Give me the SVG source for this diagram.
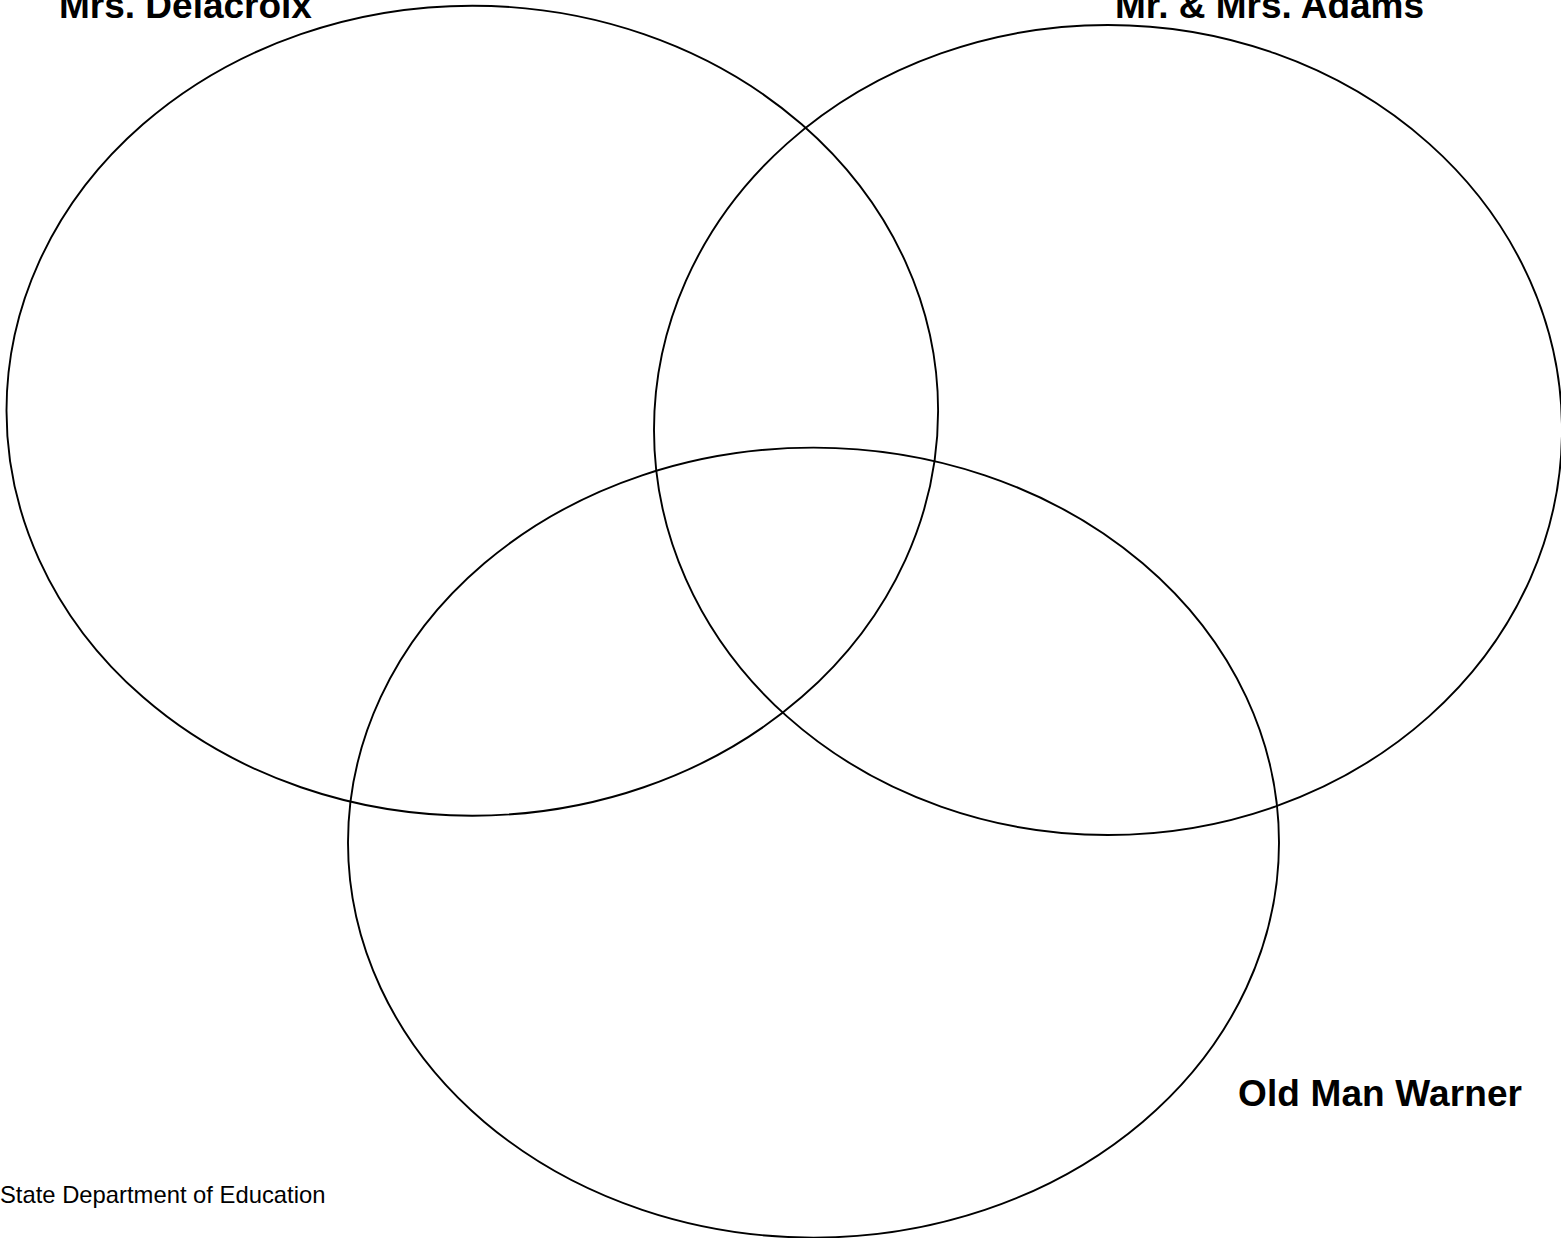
<svg xmlns="http://www.w3.org/2000/svg" width="1561" height="1238" viewBox="0 0 1561 1238">
<style>
.ring{fill:none;stroke:#000;stroke-width:1.9}
.lbl{font-family:"Liberation Sans",Arial,sans-serif;font-weight:bold;font-size:37px;fill:#000}
.foot{font-family:"Liberation Sans",Arial,sans-serif;font-size:23.8px;fill:#000}
</style>
<rect width="1561" height="1238" fill="#fff"/>
<g id="delacroix">
<ellipse class="ring" cx="472.3" cy="410.7" rx="465.8" ry="405"/>
<text class="lbl" x="59" y="18">Mrs. Delacroix</text>
</g>
<g id="adams">
<ellipse class="ring" cx="1108" cy="430" rx="454" ry="405"/>
<text class="lbl" x="1115" y="18">Mr. &amp; Mrs. Adams</text>
</g>
<g id="warner">
<ellipse class="ring" cx="813.5" cy="842.6" rx="465.5" ry="395"/>
<text class="lbl" x="1238" y="1106" textLength="284">Old Man Warner</text>
</g>
<g id="connectors"></g>
<text id="footer" class="foot" x="0" y="1203">State Department of Education</text>
</svg>
